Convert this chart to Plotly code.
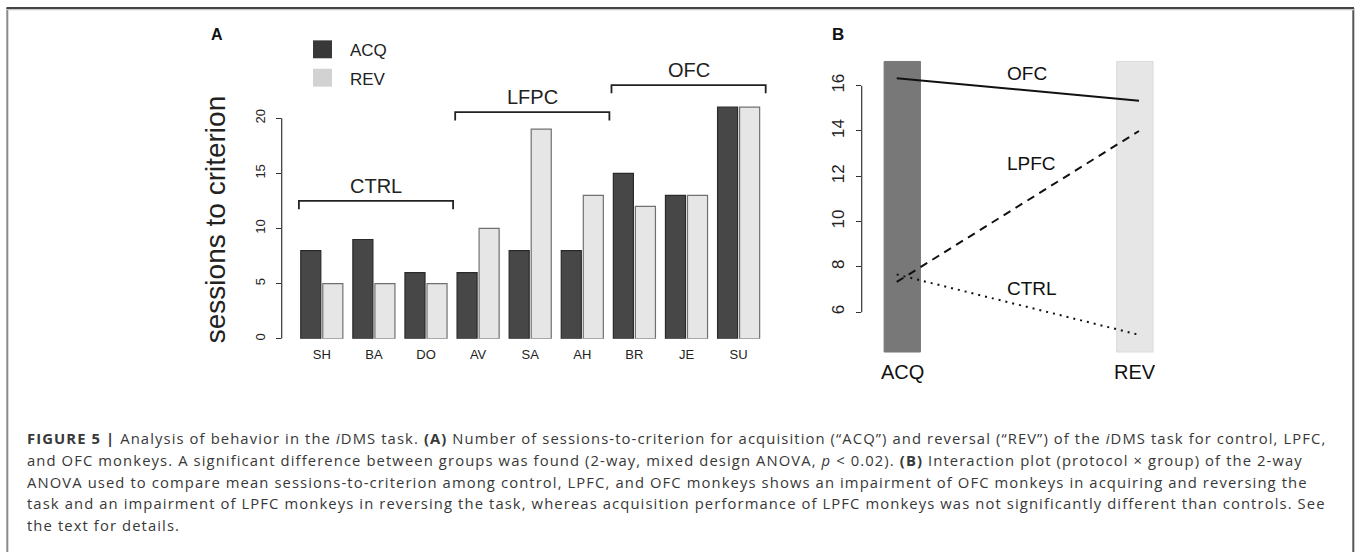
import plotly.graph_objects as go

# ---------------- data ----------------
monkeys = ["SH", "BA", "DO", "AV", "SA", "AH", "BR", "JE", "SU"]
acq = [8, 9, 6, 6, 8, 8, 15, 13, 21]
rev = [5, 5, 5, 10, 19, 13, 12, 13, 21]
group_names = ["CTRL", "LFPC", "OFC"]
group_members = [["SH", "BA", "DO"], ["AV", "SA", "AH"], ["BR", "JE", "SU"]]
group_bracket_y = [12.5, 20.55, 23.0]
a_yticks = [0, 5, 10, 15, 20]

protocols = ["ACQ", "REV"]
line_groups = ["OFC", "LPFC", "CTRL"]
line_group_src = ["OFC", "LFPC", "CTRL"]
b_yticks = [6, 8, 10, 12, 14, 16]

# ---------------- geometry helpers ----------------
W, H = 1358, 552
def fx(px):
    return px / W
def fy(py):
    return 1 - py / H

FONT = "Liberation Sans, Arial, sans-serif"
ACQ_FILL, REV_FILL = "#474747", "#e6e6e6"

fig = go.Figure()

# ---------- panel A: grouped bars ----------
fig.add_trace(go.Bar(x=monkeys, y=acq, name="ACQ", marker=dict(color=ACQ_FILL, line=dict(color="#2a2a2a", width=1.2)),
                     xaxis="x", yaxis="y", showlegend=False))
fig.add_trace(go.Bar(x=monkeys, y=rev, name="REV", marker=dict(color=REV_FILL, line=dict(color="#707070", width=1.2)),
                     xaxis="x", yaxis="y", showlegend=False))

# A axis scale: category 0 at 321.8px, 52.1 px per category
ax_left, ax_right = 281.7, 790
x0c, dxc = 321.8, 52.1
a_xrange = [(ax_left - x0c) / dxc, (ax_right - x0c) / dxc]
a_ybot, a_ypx_per = 340, 11.07
a_ytop_val = 25
a_ytop_px = a_ybot - a_ytop_val * a_ypx_per

# ---------- panel B: interaction plot ----------
b_left, b_right = 861.7, 1180
bx1, bx_per = 896.7, 242.3
b_xrange = [1 - (bx1 - b_left) / bx_per, 2 + (b_right - (bx1 + bx_per)) / bx_per]
b_y16, b_ypx_per = 86, 22.73
b_top_px, b_bot_px = 50, 360
b_yrange = [16 - (b_bot_px - b_y16) / b_ypx_per, 16 + (b_y16 - b_top_px) / b_ypx_per]
band_lo, band_hi = 4.24, 17.07
band_offsets = [-0.052, -0.092]
band_width = 0.15

fig.add_trace(go.Bar(x=[1, 2], y=[band_hi - band_lo] * 2, base=band_lo, width=band_width, offset=band_offsets,
                     marker=dict(color=["#787878", "#e6e6e6"], line=dict(color=["#787878", "#dadada"], width=1)),
                     xaxis="x2", yaxis="y2", showlegend=False, hoverinfo="skip"))

idx = {m: i for i, m in enumerate(monkeys)}
def mean(vals):
    return sum(vals) / len(vals)
dash_styles = {"OFC": "solid", "LPFC": "8px,6px", "CTRL": "2px,5px"}
for g, src in zip(line_groups, line_group_src):
    mem = group_members[group_names.index(src)]
    ys = [mean([acq[idx[m]] for m in mem]), mean([rev[idx[m]] for m in mem])]
    fig.add_trace(go.Scatter(x=[1, 2], y=ys, mode="lines", line=dict(color="#111111", width=2, dash=dash_styles[g]),
                             xaxis="x2", yaxis="y2", showlegend=False))

shapes = []
annotations = []

# border of the figure box
shapes.append(dict(type="line", xref="paper", yref="paper", x0=fx(7.3), x1=fx(7.3), y0=fy(8), y1=fy(560),
                   line=dict(color="#8a8a8a", width=2)))
shapes.append(dict(type="line", xref="paper", yref="paper", x0=fx(1353.3), x1=fx(1353.3), y0=fy(8), y1=fy(560),
                   line=dict(color="#555555", width=2)))
shapes.append(dict(type="line", xref="paper", yref="paper", x0=fx(6.5), x1=fx(1354), y0=fy(9.5), y1=fy(9.5),
                   line=dict(color="#c8c8c8", width=1.5)))
shapes.append(dict(type="line", xref="paper", yref="paper", x0=fx(6.5), x1=fx(1354), y0=fy(8), y1=fy(8),
                   line=dict(color="#444444", width=2)))

# A y-axis line (0..20)
shapes.append(dict(type="line", xref="x domain", yref="y", x0=0, x1=0, y0=a_yticks[0], y1=a_yticks[-1],
                   line=dict(color="#333333", width=1.2)))
# B y-axis line (6..16)
shapes.append(dict(type="line", xref="x2 domain", yref="y2", x0=0, x1=0, y0=b_yticks[0], y1=b_yticks[-1],
                   line=dict(color="#333333", width=1.2)))

# group brackets in panel A
tick_drop = 0.75
for gname, mem, by in zip(group_names, group_members, group_bracket_y):
    i0, i1 = idx[mem[0]], idx[mem[-1]]
    xs0 = i0 - 0.44
    xs1 = i1 + 0.52
    shapes.append(dict(type="path", xref="x", yref="y",
                       path=f"M {xs0},{by - tick_drop} L {xs0},{by} L {xs1},{by} L {xs1},{by - tick_drop}",
                       line=dict(color="#222222", width=1.8)))
    annotations.append(dict(x=(xs0 + xs1) / 2, y=by, xref="x", yref="y", yshift=15, text=gname, showarrow=False,
                            font=dict(family=FONT, size=20, color="#222222"), xanchor="center", yanchor="middle"))

# panel letters
annotations.append(dict(x=fx(217), y=fy(35), xref="paper", yref="paper", text="<b>A</b>", showarrow=False,
                        font=dict(family=FONT, size=16, color="#111111"), xanchor="center", yanchor="middle"))
annotations.append(dict(x=fx(838), y=fy(35), xref="paper", yref="paper", text="<b>B</b>", showarrow=False,
                        font=dict(family=FONT, size=17, color="#111111"), xanchor="center", yanchor="middle"))

# custom legend in panel A
for lab, col, cy in [("ACQ", "#383838", 49.5), ("REV", "#d2d2d2", 78)]:
    shapes.append(dict(type="rect", xref="paper", yref="paper", x0=fx(313), x1=fx(332), y0=fy(cy - 9), y1=fy(cy + 9),
                       fillcolor=col, line=dict(width=0)))
    annotations.append(dict(x=fx(348), y=fy(cy + 1.5), xref="paper", yref="paper", text=lab, showarrow=False,
                            font=dict(family=FONT, size=17, color="#222222"), xanchor="left", yanchor="middle"))

# A y-axis title
annotations.append(dict(x=fx(215), y=fy(221), xref="paper", yref="paper", text="sessions to criterion",
                        textangle=-90, showarrow=False, font=dict(family=FONT, size=28, color="#222222"),
                        xanchor="center", yanchor="middle"))

# B protocol labels under the bands
for i, p in enumerate(protocols):
    cx = (i + 1) + band_offsets[i] + band_width / 2
    annotations.append(dict(x=cx, y=fy(373), xref="x2", yref="paper", text=p, showarrow=False,
                            font=dict(family=FONT, size=20, color="#111111"), xanchor="center", yanchor="middle"))

# B line labels
for g, lx, ly in [("OFC", 1.538, 16.56), ("LPFC", 1.558, 12.56), ("CTRL", 1.558, 7.03)]:
    annotations.append(dict(x=lx, y=ly, xref="x2", yref="y2", text=g, showarrow=False,
                            font=dict(family=FONT, size=19, color="#111111"), xanchor="center", yanchor="middle"))

# caption
caption_lines = [
    "<b>FIGURE 5 |</b> Analysis of behavior in the <i>i</i>DMS task. <b>(A)</b> Number of sessions-to-criterion for acquisition (“ACQ”) and reversal (“REV”) of the <i>i</i>DMS task for control, LPFC,",
    "and OFC monkeys. A significant difference between groups was found (2-way, mixed design ANOVA, <i>p</i> &lt; 0.02). <b>(B)</b> Interaction plot (protocol × group) of the 2-way",
    "ANOVA used to compare mean sessions-to-criterion among control, LPFC, and OFC monkeys shows an impairment of OFC monkeys in acquiring and reversing the",
    "task and an impairment of LPFC monkeys in reversing the task, whereas acquisition performance of LPFC monkeys was not significantly different than controls. See",
    "the text for details.",
]
for k, line in enumerate(caption_lines):
    annotations.append(dict(x=fx(25), y=fy(440 + 21.7 * k), xref="paper", yref="paper",
                            text=f'<span style="letter-spacing:1.1px">{line}</span>', showarrow=False,
                            font=dict(family="Open Sans, sans-serif", size=14.8, color="#383838"),
                            xanchor="left", yanchor="middle", align="left"))

fig.update_layout(
    width=W, height=H, margin=dict(l=0, r=0, t=0, b=0),
    paper_bgcolor="white", plot_bgcolor="white",
    barmode="group", bargap=0.154, bargroupgap=0.09,
    xaxis=dict(domain=[fx(ax_left), fx(ax_right)], range=a_xrange, anchor="y", showgrid=False, zeroline=False,
               showline=False, ticks="", tickfont=dict(family=FONT, size=13, color="#222222"), ticklabelstandoff=6,
               fixedrange=True),
    yaxis=dict(domain=[fy(a_ybot), fy(a_ytop_px)], range=[0, a_ytop_val], anchor="x", showgrid=False, zeroline=False,
               showline=False, tickvals=a_yticks, ticks="outside", ticklen=5, tickcolor="#333333", tickwidth=1.2,
               tickangle=-90, tickfont=dict(family=FONT, size=13, color="#222222"), ticklabelstandoff=6),
    xaxis2=dict(domain=[fx(b_left), fx(b_right)], range=b_xrange, anchor="y2", showgrid=False, zeroline=False,
                showline=False, showticklabels=False, ticks=""),
    yaxis2=dict(domain=[fy(b_bot_px), fy(b_top_px)], range=b_yrange, anchor="x2", showgrid=False, zeroline=False,
                showline=False, tickvals=b_yticks, ticks="outside", ticklen=5, tickcolor="#333333", tickwidth=1.2,
                tickangle=-90, tickfont=dict(family=FONT, size=17, color="#222222"), ticklabelstandoff=5),
    shapes=shapes, annotations=annotations,
)

fig.write_html("out.html")
